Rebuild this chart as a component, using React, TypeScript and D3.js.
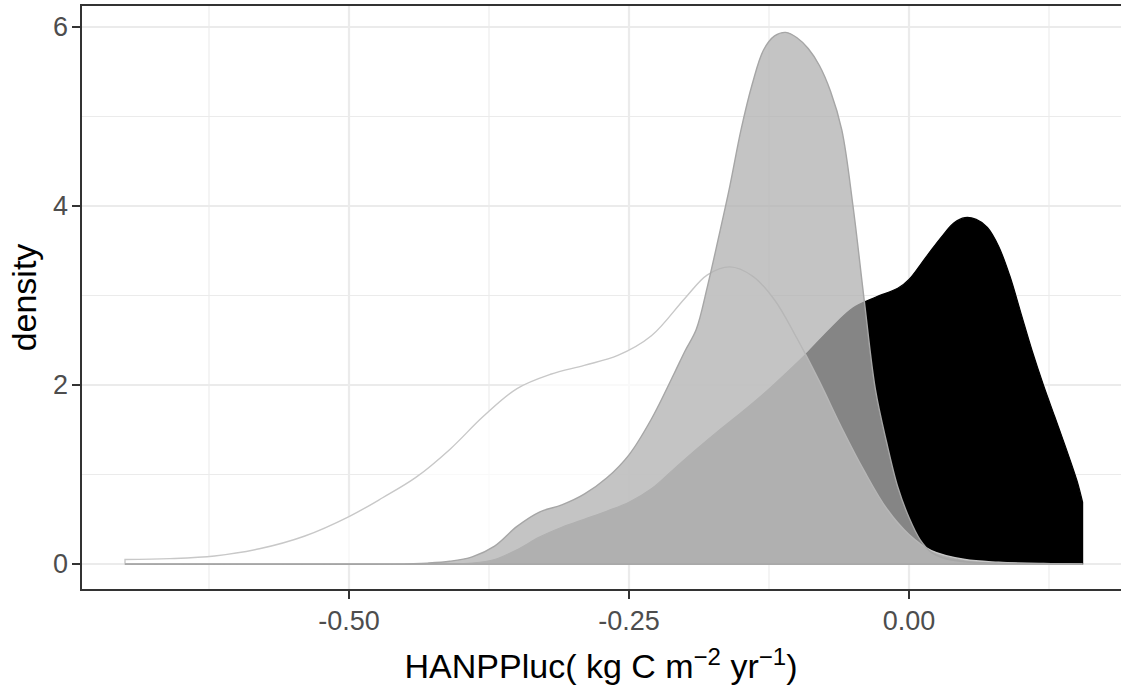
import React from "react";
import * as d3 from "d3";

// ---- data ----
// light/white density (outline only, white fill)
const aX = [-0.70, -0.66, -0.62, -0.58, -0.54, -0.50, -0.47, -0.44, -0.41, -0.38, -0.35, -0.32, -0.29, -0.26, -0.23, -0.20, -0.18, -0.16, -0.14, -0.12, -0.10, -0.08, -0.06, -0.04, -0.02, 0.00, 0.02, 0.05, 0.08, 0.12, 0.155];
const aY = [0.05, 0.06, 0.09, 0.17, 0.31, 0.53, 0.74, 0.97, 1.28, 1.65, 1.96, 2.12, 2.22, 2.33, 2.55, 2.97, 3.23, 3.32, 3.22, 2.95, 2.52, 2.04, 1.52, 1.04, 0.62, 0.33, 0.15, 0.05, 0.02, 0.005, 0.0];
// grey density (tall peak)
const bX = [-0.70, -0.46, -0.43, -0.41, -0.39, -0.37, -0.35, -0.33, -0.31, -0.29, -0.27, -0.25, -0.23, -0.21, -0.20, -0.19, -0.18, -0.17, -0.16, -0.15, -0.14, -0.13, -0.12, -0.11, -0.10, -0.09, -0.08, -0.07, -0.06, -0.05, -0.04, -0.03, -0.02, -0.01, 0.00, 0.01, 0.02, 0.03, 0.05, 0.08, 0.155];
const bY = [0, 0.0, 0.01, 0.03, 0.08, 0.2, 0.42, 0.58, 0.66, 0.78, 0.96, 1.22, 1.62, 2.12, 2.38, 2.62, 3.1, 3.65, 4.22, 4.85, 5.36, 5.74, 5.9, 5.94, 5.88, 5.76, 5.57, 5.28, 4.85, 4.0, 2.95, 1.95, 1.36, 0.86, 0.52, 0.27, 0.13, 0.07, 0.025, 0.008, 0];
// black density
const cX = [-0.70, -0.42, -0.39, -0.37, -0.35, -0.33, -0.31, -0.29, -0.27, -0.25, -0.23, -0.21, -0.19, -0.17, -0.15, -0.13, -0.11, -0.09, -0.07, -0.05, -0.03, -0.01, 0.00, 0.01, 0.02, 0.03, 0.04, 0.05, 0.06, 0.07, 0.08, 0.09, 0.10, 0.11, 0.12, 0.13, 0.14, 0.15, 0.155];
const cY = [0, 0.0, 0.01, 0.05, 0.16, 0.3, 0.41, 0.5, 0.59, 0.69, 0.84, 1.06, 1.28, 1.49, 1.69, 1.9, 2.13, 2.37, 2.63, 2.86, 2.98, 3.08, 3.18, 3.34, 3.51, 3.67, 3.81, 3.87, 3.85, 3.76, 3.55, 3.22, 2.8, 2.38, 2.0, 1.65, 1.3, 0.93, 0.69];

const xTicks = [-0.5, -0.25, 0.0];
const xTickLabels = ["-0.50", "-0.25", "0.00"];
const xMinor = [-0.625, -0.375, -0.125, 0.125];
const yTicks = [0, 2, 4, 6];
const yTickLabels = ["0", "2", "4", "6"];
const yMinor = [1, 3, 5];

const W = 1121;
const H = 686;
const FONT = "'Liberation Sans', Arial, Helvetica, sans-serif";

export default function App() {
  const left = 81, right = 1121, top = 5, bottom = 590;
  const x = d3.scaleLinear().domain([-0.73929, 0.18929]).range([left, right]);
  const y = d3.scaleLinear().domain([-0.2905, 6.2458]).range([bottom, top]);

  const mk = (xs: number[], ys: number[]) => {
    const pts = xs.map((v, i) => [v, ys[i]] as [number, number]);
    return d3
      .area<[number, number]>()
      .x((d) => x(d[0]))
      .y0(y(0))
      .y1((d) => y(d[1]))
      .curve(d3.curveCatmullRom.alpha(0.5))(pts) as string;
  };

  const pathA = mk(aX, aY);
  const pathB = mk(bX, bY);
  const pathC = mk(cX, cY);

  return (
    <div style={{ position: "absolute", left: 0, top: 0 }}>
      <svg width={W} height={H} style={{ display: "block" }} fontFamily={FONT}>
        <rect x={0} y={0} width={W} height={H} fill="#ffffff" />
        <defs>
          <clipPath id="panel">
            <rect x={left} y={top} width={right - left + 2} height={bottom - top} />
          </clipPath>
        </defs>
        {/* grid */}
        <g>
          {xMinor.map((v) => (
            <line key={"xm" + v} x1={x(v)} x2={x(v)} y1={top} y2={bottom} stroke="#ebebeb" strokeWidth={1.1} />
          ))}
          {yMinor.map((v) => (
            <line key={"ym" + v} x1={left} x2={right + 2} y1={y(v)} y2={y(v)} stroke="#ebebeb" strokeWidth={1.1} />
          ))}
          {xTicks.map((v) => (
            <line key={"xM" + v} x1={x(v)} x2={x(v)} y1={top} y2={bottom} stroke="#ebebeb" strokeWidth={2.2} />
          ))}
          {yTicks.map((v) => (
            <line key={"yM" + v} x1={left} x2={right + 2} y1={y(v)} y2={y(v)} stroke="#ebebeb" strokeWidth={2.2} />
          ))}
        </g>
        {/* densities */}
        <g clipPath="url(#panel)">
          <path d={pathC} fill="#000000" stroke="#000000" strokeWidth={1.2} />
          <path d={pathA} fill="#ffffff" fillOpacity={0.68} stroke="#c8c8c8" strokeWidth={1.4} />
          <path d={pathB} fill="#b1b1b1" fillOpacity={0.753} stroke="#a6a6a6" strokeWidth={1.4} />
        </g>
        {/* panel border */}
        <rect x={left} y={top} width={right - left + 4} height={bottom - top} fill="none" stroke="#333333" strokeWidth={2} />
        {/* y axis */}
        {yTicks.map((v, i) => (
          <g key={"yt" + v}>
            <line x1={left - 9} x2={left} y1={y(v)} y2={y(v)} stroke="#333333" strokeWidth={2} />
            <text x={left - 13} y={y(v)} dy="0.35em" textAnchor="end" fontSize={27} fill="#4d4d4d">
              {yTickLabels[i]}
            </text>
          </g>
        ))}
        {/* x axis */}
        {xTicks.map((v, i) => (
          <g key={"xt" + v}>
            <line x1={x(v)} x2={x(v)} y1={bottom} y2={bottom + 9} stroke="#333333" strokeWidth={2} />
            <text x={x(v)} y={bottom + 40} textAnchor="middle" fontSize={27} fill="#4d4d4d">
              {xTickLabels[i]}
            </text>
          </g>
        ))}
        {/* titles */}
        <text transform={`translate(36, ${(top + bottom) / 2}) rotate(-90)`} textAnchor="middle" fontSize={34} fill="#000000">
          density
        </text>
        <text x={(left + right) / 2} y={678} textAnchor="middle" fontSize={34} fill="#000000">
          <tspan>HANPPluc( kg C m</tspan>
          <tspan dy={-13} fontSize={24}>−2</tspan>
          <tspan dy={13}> yr</tspan>
          <tspan dy={-13} fontSize={24}>−1</tspan>
          <tspan dy={13}>)</tspan>
        </text>
      </svg>
    </div>
  );
}
